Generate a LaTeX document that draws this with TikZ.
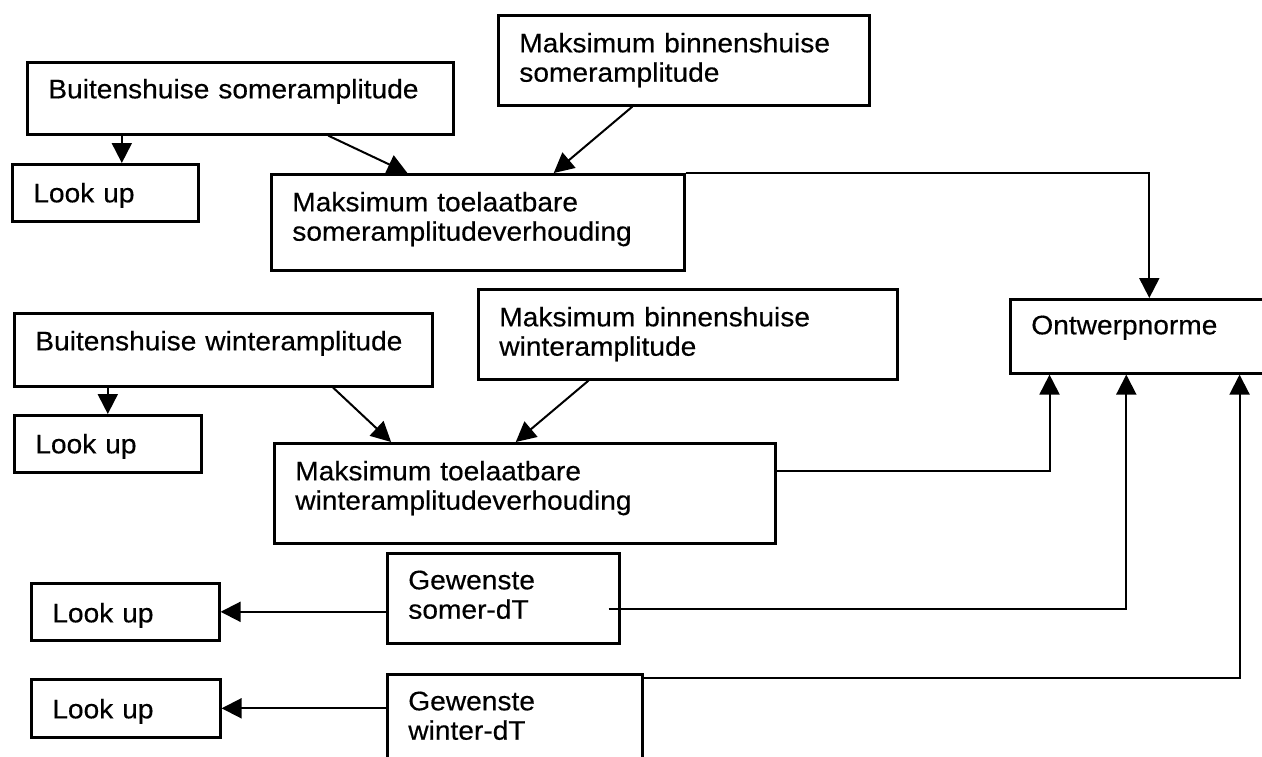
\documentclass[tikz,border=0pt]{standalone}
\usepackage{fontspec}
\setmainfont{Liberation Sans}[FakeStretch=1.05, FakeBold=0.4]
\usetikzlibrary{arrows.meta}

\tikzset{
	blok/.style={draw, line width=1.3pt, anchor=north west, align=left,
		inner xsep=10.5pt, inner ysep=0pt, font=\fontsize{13.4}{14.7}\selectfont},
	pyl/.style={line width=1pt, -{Triangle[length=10pt,width=10pt]}}
}
% naam, x, y, breedte, hoogte, basislyn, teks (alles in pixels)
\newcommand{\kassie}[7]{
	\node[blok, text width={(#4-42)*0.5pt}, text height={#6*0.5pt},
		text depth={(#5-#6)*0.5pt}] (#1) at (#2,#3) {#7};
}

\begin{document}
\begin{tikzpicture}[x=0.5pt, y=-0.5pt]
		\useasboundingbox (0,0) rectangle (1262,756);
		\clip (0,0) rectangle (1262,756);

		% Somer
		\kassie{bso}{26}{61}{426}{72}{36}{Buitenshuise someramplitude}
		\kassie{lu1}{11}{163}{186}{57}{38}{Look up}
		\kassie{bns}{497}{14}{371}{90}{37}{Maksimum binnenshuise\\someramplitude}
		\kassie{mts}{270}{173}{413}{96}{37}{Maksimum toelaatbare\\someramplitudeverhouding}

		% Winter
		\kassie{bwi}{13}{312}{418}{73}{37}{Buitenshuise winteramplitude}
		\kassie{lu2}{13}{414}{187}{57}{38}{Look up}
		\kassie{bnw}{477}{288}{419}{90}{37}{Maksimum binnenshuise\\winteramplitude}
		\kassie{mtw}{273}{442}{501}{100}{37}{Maksimum toelaatbare\\winteramplitudeverhouding}

		\kassie{ontw}{1009}{298}{278}{74}{35}{Ontwerpnorme}

		% dT
		\kassie{gso}{386}{552}{232}{90}{36}{Gewenste\\somer-dT}
		\kassie{lu3}{30}{582}{188}{57}{39}{Look up}
		\kassie{gwi}{386}{673}{255}{97}{36}{Gewenste\\winter-dT}
		\kassie{lu4}{30}{678}{189}{58}{39}{Look up}

		\draw[pyl] (bso.south -| lu1.61) -- (lu1.61);
		\draw[pyl] (bso.-23) -- (mts.145);
		\draw[pyl] (bns.-138) -- (mts.33);
		\draw[pyl] (mts.north east) -| (ontw.north);

		\draw[pyl] (bwi.south -| lu2.north) -- (lu2.north);
		\draw[pyl] (bwi.-19) -- (mtw.159);
		\draw[pyl] (bnw.-155) -- (mtw.100);
		\draw[pyl] (mtw.5) -| (ontw.-159);

		\draw[pyl] (gso.west |- lu3.east) -- (lu3.east);
		\draw[pyl] ([xshift=-6pt]gso.-5) -| (ontw.-121);
		\draw[pyl] (gwi.west |- lu4.east) -- (lu4.east);
		\draw[pyl] (gwi.19) -| (ontw.-23);
	\end{tikzpicture}
\end{document}
